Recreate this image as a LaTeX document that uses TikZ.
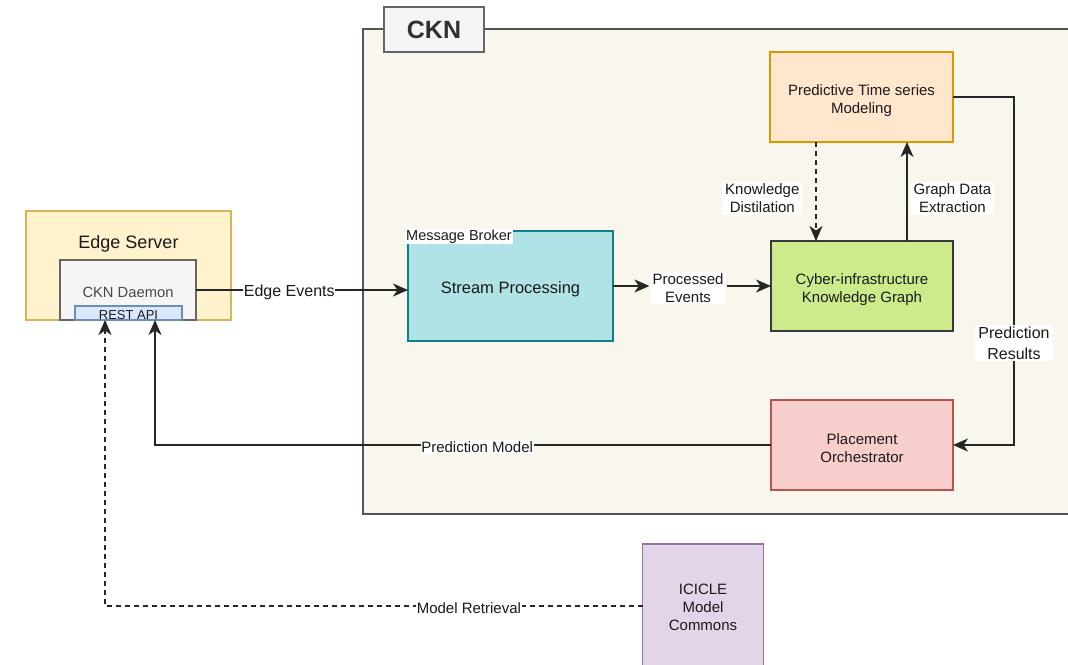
\documentclass[tikz,border=0pt]{standalone}
\usepackage{fontspec}
\setmainfont{Liberation Sans}
\usetikzlibrary{arrows.meta}

\definecolor{cknfill}{HTML}{F9F6EE}
\definecolor{cknline}{HTML}{555555}
\definecolor{greyfill}{HTML}{F5F5F5}
\definecolor{greyline}{HTML}{666666}
\definecolor{edgefill}{HTML}{FFF2CC}
\definecolor{edgeline}{HTML}{D6B656}
\definecolor{restfill}{HTML}{DAE8FC}
\definecolor{restline}{HTML}{6C8EBF}
\definecolor{streamfill}{HTML}{B0E3E6}
\definecolor{streamline}{HTML}{0E8088}
\definecolor{kgfill}{HTML}{CDEB8B}
\definecolor{kgline}{HTML}{36393D}
\definecolor{predfill}{HTML}{FFE6CC}
\definecolor{predline}{HTML}{D79B00}
\definecolor{placefill}{HTML}{F8CECC}
\definecolor{placeline}{HTML}{B85450}
\definecolor{icfill}{HTML}{E1D5E7}
\definecolor{icline}{HTML}{9673A6}
\definecolor{ink}{HTML}{1A1A1A}
\definecolor{wire}{HTML}{262626}

\newcommand{\fs}[2]{\fontsize{#1}{#2}\selectfont}

\tikzset{
  blk/.style={draw, line width=1.1pt, inner sep=0pt, outer sep=0pt},
  txt/.style={inner sep=0pt, align=center, text=ink, font=\fs{15}{18}},
  lbl/.style={fill=white, inner xsep=3pt, inner ysep=1.5pt, align=center,
    text=ink, font=\fs{15}{18}},
  online/.style={lbl, inner xsep=0.6pt, yshift=-2pt},
  arr/.style={draw=wire, line width=1.2pt,
    -{Stealth[length=15pt, width=13pt, inset=4.5pt]}},
  dashline/.style={dash pattern=on 5pt off 4pt},
}

\begin{document}
\begin{tikzpicture}[x=1pt, y=-1pt]
\useasboundingbox (0,0) rectangle (1068,664);

% CKN container and its tab
\node[blk, draw=cknline, fill=cknfill, minimum width=712, minimum height=485]
  (ckn) at (719,271.5) {};
\node[blk, draw=greyline, fill=greyfill, minimum width=100, minimum height=45,
  font=\fs{25}{28}\bfseries, text=ink!90] (cknlabel) at (434,29.5) {CKN};

% Edge server with its daemon
\node[blk, draw=edgeline, fill=edgefill, minimum width=205, minimum height=109]
  (edge) at (128.5,265.5) {};
\node[txt, font=\fs{18}{21}] (edgetitle) at (128.5,243.5) {Edge Server};
\node[blk, draw=greyline, fill=greyfill, minimum width=136, minimum height=60]
  (daemon) at (128,290) {};
\node[txt, text=ink!80, font=\fs{14.75}{18}] (daemontext) at (128,292) {CKN Daemon};
\node[blk, draw=restline, fill=restfill, minimum width=107, minimum height=14]
  (rest) at (128.5,313) {};
\node[txt, font=\fs{13}{14}] (resttext) at (128.5,315) {REST API};

% Components inside CKN
\node[blk, draw=streamline, fill=streamfill, minimum width=205, minimum height=110]
  (stream) at (510.5,286) {};
\node[txt, font=\fs{16.5}{20}] (streamtext) at (510.5,289) {Stream Processing};
\node[fill=white, inner sep=1pt, text=ink, font=\fs{14.5}{16}] (broker)
  at (459,236.5) {Message Broker};
\node[blk, draw=kgline, fill=kgfill, minimum width=182, minimum height=90]
  (kg) at (862,286) {};
\node[txt] (kgtext) at (862,289.5) {Cyber-infrastructure\\Knowledge Graph};
\node[blk, draw=predline, fill=predfill, minimum width=183, minimum height=90]
  (pred) at (861.5,97) {};
\node[txt] (predtext) at (861.5,100.5) {Predictive Time series\\Modeling};
\node[blk, draw=placeline, fill=placefill, minimum width=182, minimum height=90]
  (place) at (862,445) {};
\node[txt] (placetext) at (862,448) {Placement\\Orchestrator};

% Model commons
\node[blk, draw=icline, fill=icfill, minimum width=121, minimum height=124]
  (icicle) at (703,606) {};
\node[txt] (ictext) at (703,607.5) {ICICLE\\Model\\Commons};

% Free-standing label between the stream processor and the graph
\node[lbl] (proc) at (688,288) {Processed\\Events};

% Bend points
\coordinate (pr1) at (1014,97);
\coordinate (pr2) at (1014,445);
\coordinate (pm) at (155,445);
\coordinate (mr) at (105,606);

% Connectors
\draw[arr] (daemon.east) -- node[online, pos=0.44, font=\fs{16}{19}]
  {Edge Events} (daemon.east -| stream.west);
\draw[arr] (stream.east) -- (stream.east -| proc.west);
\draw[arr] (proc.east |- kg.west) -- (kg.west);
\draw[arr] ([xshift=45pt]kg.north) -- node[lbl, anchor=west, xshift=3pt, yshift=-7pt]
  {Graph Data\\Extraction} ([xshift=45pt]kg.north |- pred.south);
\draw[arr, dashline] ([xshift=-45.5pt]pred.south) -- node[lbl, anchor=east, xshift=-13pt,
  yshift=-7pt] {Knowledge\\Distilation} ([xshift=-45.5pt]pred.south |- kg.north);
\draw[arr] (pred.east) -- (pr1) -- node[lbl, pos=0.704, yshift=-1pt, font=\fs{16}{21}]
  {Prediction\\Results} (pr2) -- (place.east);
\draw[arr] (place.west) -- node[online, pos=0.477] {Prediction Model} (pm)
  -- (pm |- rest.south);
\draw[arr, dashline] (icicle.west) -- node[online, pos=0.323]
  {Model Retrieval} (mr) -- (mr |- rest.south);
\end{tikzpicture}
\end{document}
